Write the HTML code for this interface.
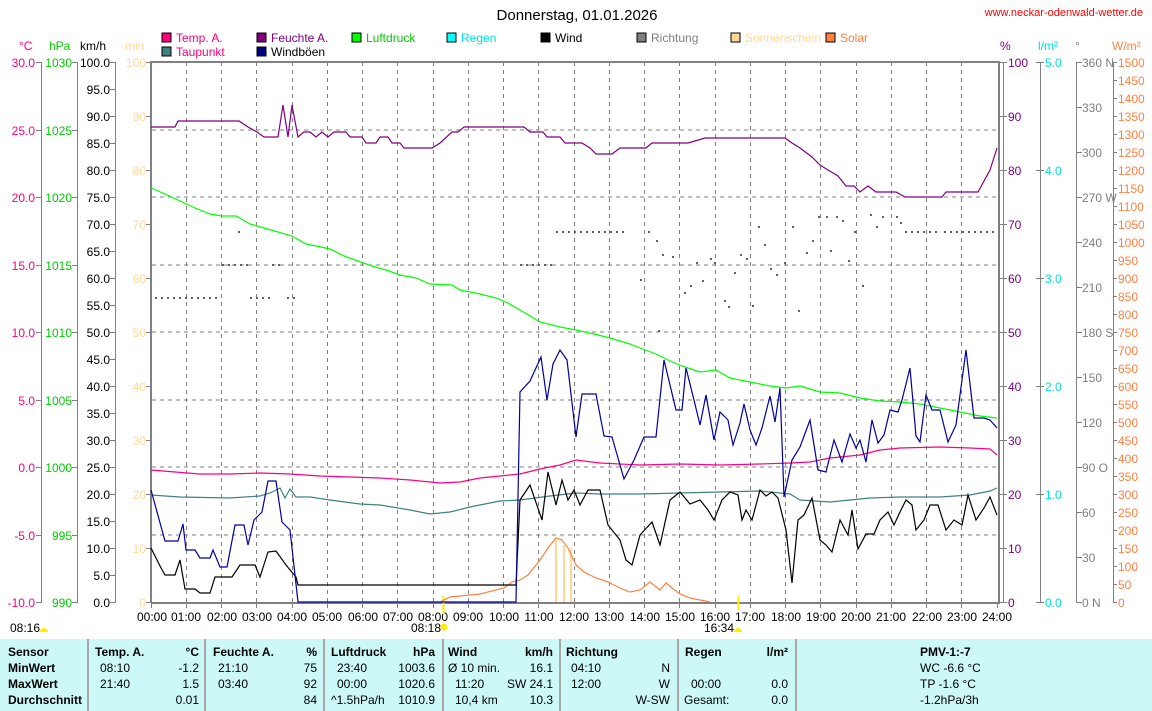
<!DOCTYPE html>
<html><head><meta charset="utf-8"><style>
html,body{margin:0;padding:0;background:#fff;}
body{width:1152px;height:711px;overflow:hidden;position:relative;font-family:"Liberation Sans",sans-serif;}
svg{position:absolute;left:0;top:0;}
svg text{font-family:"Liberation Sans",sans-serif;font-size:12px;}
.tbl{position:absolute;left:0;top:639px;width:1152px;height:72px;background:#ccf8f8;font-size:12px;}
.tbl div{position:absolute;white-space:nowrap;}
.b{font-weight:bold;}
.vl{position:absolute;top:0;width:2px;height:72px;background:#a8a8a8;}
</style></head><body>
<svg width="1152" height="711" viewBox="0 0 1152 711">
<text x="577" y="20" text-anchor="middle" font-size="15" style="font-size:15px">Donnerstag, 01.01.2026</text>
<text x="1143" y="16" text-anchor="end" fill="#ff0000" style="font-size:11px">www.neckar-odenwald-wetter.de</text>
<!-- legend -->
<g style="font-size:12px">
<rect x="162" y="33" width="9" height="9" fill="#ff0080" stroke="#000"/><text x="176" y="42" fill="#ff0080">Temp. A.</text>
<rect x="162" y="47" width="9" height="9" fill="#408080" stroke="#000"/><text x="176" y="56" fill="#ff0080">Taupunkt</text>
<rect x="257" y="33" width="9" height="9" fill="#800080" stroke="#000"/><text x="271" y="42" fill="#800080">Feuchte A.</text>
<rect x="257" y="47" width="9" height="9" fill="#000080" stroke="#000"/><text x="271" y="56" fill="#000">Windböen</text>
<rect x="352" y="33" width="9" height="9" fill="#00ff00" stroke="#000"/><text x="366" y="42" fill="#00cc00">Luftdruck</text>
<rect x="447" y="33" width="9" height="9" fill="#00ffff" stroke="#000"/><text x="461" y="42" fill="#00e0e0">Regen</text>
<rect x="541" y="33" width="9" height="9" fill="#000" stroke="#000"/><text x="555" y="42" fill="#000">Wind</text>
<rect x="637" y="33" width="9" height="9" fill="#808080" stroke="#000"/><text x="651" y="42" fill="#808080">Richtung</text>
<rect x="731" y="33" width="9" height="9" fill="#ffd898" stroke="#000"/><text x="745" y="42" fill="#ffd898">Sonnenschein</text>
<rect x="826" y="33" width="9" height="9" fill="#ff8040" stroke="#000"/><text x="840" y="42" fill="#ff8040">Solar</text>
</g>
<!-- axis headers -->
<text x="19" y="50" fill="#ff0080">°C</text>
<text x="49" y="50" fill="#00cc00">hPa</text>
<text x="80" y="50" fill="#000">km/h</text>
<text x="125" y="50" fill="#ffd898">min</text>
<text x="1000" y="50" fill="#800080">%</text>
<text x="1038" y="50" fill="#00e0e0">l/m²</text>
<text x="1075" y="50" fill="#808080">°</text>
<text x="1112" y="50" fill="#ff8040">W/m²</text>
<!-- grid -->
<g stroke="#808080" stroke-dasharray="4 4" stroke-width="1">
<path d="M152 130H997M152 197H997M152 265H997M152 332H997M152 400H997M152 467H997M152 535H997"/>
<path d="M186.5 62V602M221.5 62V602M256.5 62V602M292.5 62V602M327.5 62V602M362.5 62V602M397.5 62V602M433.5 62V602M468.5 62V602M503.5 62V602M538.5 62V602M574.5 62V602M609.5 62V602M644.5 62V602M679.5 62V602M715.5 62V602M750.5 62V602M785.5 62V602M820.5 62V602M856.5 62V602M891.5 62V602M926.5 62V602M961.5 62V602"/>
</g>
<!-- frame -->
<path d="M151 603V62H999V603H151" fill="none" stroke="#808080" stroke-width="2"/>
<g stroke="#808080" stroke-width="1" fill="none">
<path d="M41.5 62V602M77.5 62V602M115.5 62V602M1003.5 62V602M1040.5 62V602M1076.5 62V602M1113.5 62V602"/>
<path d="M36 62.5h6M36 130.5h6M36 197.5h6M36 265.5h6M36 332.5h6M36 400.5h6M36 467.5h6M36 535.5h6M36 602.5h6"/>
<path d="M72 62.5h6M72 130.5h6M72 197.5h6M72 265.5h6M72 332.5h6M72 400.5h6M72 467.5h6M72 535.5h6M72 602.5h6"/>
<path d="M110 62.5h6M110 89.5h6M110 116.5h6M110 143.5h6M110 170.5h6M110 197.5h6M110 224.5h6M110 251.5h6M110 278.5h6M110 305.5h6M110 332.5h6M110 359.5h6M110 386.5h6M110 413.5h6M110 440.5h6M110 467.5h6M110 494.5h6M110 521.5h6M110 548.5h6M110 575.5h6M110 602.5h6"/>
<path d="M146 62.5h6M146 116.5h6M146 170.5h6M146 224.5h6M146 278.5h6M146 332.5h6M146 386.5h6M146 440.5h6M146 494.5h6M146 548.5h6M146 602.5h6"/>
<path d="M999 62.5h8M999 116.5h8M999 170.5h8M999 224.5h8M999 278.5h8M999 332.5h8M999 386.5h8M999 440.5h8M999 494.5h8M999 548.5h8M999 602.5h8"/>
<path d="M1036 62.5h8M1036 170.5h8M1036 278.5h8M1036 386.5h8M1036 494.5h8M1036 602.5h8"/>
<path d="M1076 62.5h6M1076 107.5h6M1076 152.5h6M1076 197.5h6M1076 242.5h6M1076 287.5h6M1076 332.5h6M1076 377.5h6M1076 422.5h6M1076 467.5h6M1076 512.5h6M1076 557.5h6M1076 602.5h6"/>
<path d="M1113 62.5h4M1113 80.5h4M1113 98.5h4M1113 116.5h4M1113 134.5h4M1113 152.5h4M1113 170.5h4M1113 188.5h4M1113 206.5h4M1113 224.5h4M1113 242.5h4M1113 260.5h4M1113 278.5h4M1113 296.5h4M1113 314.5h4M1113 332.5h4M1113 350.5h4M1113 368.5h4M1113 386.5h4M1113 404.5h4M1113 422.5h4M1113 440.5h4M1113 458.5h4M1113 476.5h4M1113 494.5h4M1113 512.5h4M1113 530.5h4M1113 548.5h4M1113 566.5h4M1113 584.5h4M1113 602.5h4"/>
<path d="M151.5 603v5M186.5 603v5M221.5 603v5M256.5 603v5M292.5 603v5M327.5 603v5M362.5 603v5M397.5 603v5M433.5 603v5M468.5 603v5M503.5 603v5M538.5 603v5M574.5 603v5M609.5 603v5M644.5 603v5M679.5 603v5M715.5 603v5M750.5 603v5M785.5 603v5M820.5 603v5M856.5 603v5M891.5 603v5M926.5 603v5M961.5 603v5M997.5 603v5"/>
</g>
<!-- left labels -->
<g fill="#ff0080" text-anchor="end">
<text x="35" y="67">30.0</text><text x="35" y="135">25.0</text><text x="35" y="202">20.0</text><text x="35" y="270">15.0</text><text x="35" y="337">10.0</text><text x="35" y="405">5.0</text><text x="35" y="472">0.0</text><text x="35" y="540">-5.0</text><text x="35" y="607">-10.0</text>
</g>
<g fill="#00cc00" text-anchor="end">
<text x="72" y="67">1030</text><text x="72" y="135">1025</text><text x="72" y="202">1020</text><text x="72" y="270">1015</text><text x="72" y="337">1010</text><text x="72" y="405">1005</text><text x="72" y="472">1000</text><text x="72" y="540">995</text><text x="72" y="607">990</text>
</g>
<g fill="#000" text-anchor="end">
<text x="110" y="67">100.0</text><text x="110" y="94">95.0</text><text x="110" y="121">90.0</text><text x="110" y="148">85.0</text><text x="110" y="175">80.0</text><text x="110" y="202">75.0</text><text x="110" y="229">70.0</text><text x="110" y="256">65.0</text><text x="110" y="283">60.0</text><text x="110" y="310">55.0</text><text x="110" y="337">50.0</text><text x="110" y="364">45.0</text><text x="110" y="391">40.0</text><text x="110" y="418">35.0</text><text x="110" y="445">30.0</text><text x="110" y="472">25.0</text><text x="110" y="499">20.0</text><text x="110" y="526">15.0</text><text x="110" y="553">10.0</text><text x="110" y="580">5.0</text><text x="110" y="607">0.0</text>
</g>
<g fill="#ffd898" text-anchor="end">
<text x="146" y="67">100</text><text x="146" y="121">90</text><text x="146" y="175">80</text><text x="146" y="229">70</text><text x="146" y="283">60</text><text x="146" y="337">50</text><text x="146" y="391">40</text><text x="146" y="445">30</text><text x="146" y="499">20</text><text x="146" y="553">10</text><text x="146" y="607">0</text>
</g>
<!-- right labels -->
<g fill="#800080">
<text x="1008" y="67">100</text><text x="1008" y="121">90</text><text x="1008" y="175">80</text><text x="1008" y="229">70</text><text x="1008" y="283">60</text><text x="1008" y="337">50</text><text x="1008" y="391">40</text><text x="1008" y="445">30</text><text x="1008" y="499">20</text><text x="1008" y="553">10</text><text x="1008" y="607">0</text>
</g>
<g fill="#00e0e0">
<text x="1045" y="67">5.0</text><text x="1045" y="175">4.0</text><text x="1045" y="283">3.0</text><text x="1045" y="391">2.0</text><text x="1045" y="499">1.0</text><text x="1045" y="607">0.0</text>
</g>
<g fill="#808080">
<text x="1082" y="67">360 N</text><text x="1082" y="112">330</text><text x="1082" y="157">300</text><text x="1082" y="202">270 W</text><text x="1082" y="247">240</text><text x="1082" y="292">210</text><text x="1082" y="337">180 S</text><text x="1082" y="382">150</text><text x="1082" y="427">120</text><text x="1082" y="472">90 O</text><text x="1082" y="517">60</text><text x="1082" y="562">30</text><text x="1082" y="607">0 N</text>
</g>
<g fill="#ff8040">
<text x="1118" y="67">1500</text><text x="1118" y="85">1450</text><text x="1118" y="103">1400</text><text x="1118" y="121">1350</text><text x="1118" y="139">1300</text><text x="1118" y="157">1250</text><text x="1118" y="175">1200</text><text x="1118" y="193">1150</text><text x="1118" y="211">1100</text><text x="1118" y="229">1050</text><text x="1118" y="247">1000</text><text x="1118" y="265">950</text><text x="1118" y="283">900</text><text x="1118" y="301">850</text><text x="1118" y="319">800</text><text x="1118" y="337">750</text><text x="1118" y="355">700</text><text x="1118" y="373">650</text><text x="1118" y="391">600</text><text x="1118" y="409">550</text><text x="1118" y="427">500</text><text x="1118" y="445">450</text><text x="1118" y="463">400</text><text x="1118" y="481">350</text><text x="1118" y="499">300</text><text x="1118" y="517">250</text><text x="1118" y="535">200</text><text x="1118" y="553">150</text><text x="1118" y="571">100</text><text x="1118" y="589">50</text><text x="1118" y="607">0</text>
</g>
<!-- time labels -->
<g fill="#000" text-anchor="middle">
<text x="152" y="621">00:00</text><text x="186" y="621">01:00</text><text x="222" y="621">02:00</text><text x="257" y="621">03:00</text><text x="292" y="621">04:00</text><text x="327" y="621">05:00</text><text x="363" y="621">06:00</text><text x="398" y="621">07:00</text><text x="433" y="621">08:00</text><text x="468" y="621">09:00</text><text x="504" y="621">10:00</text><text x="539" y="621">11:00</text><text x="574" y="621">12:00</text><text x="609" y="621">13:00</text><text x="645" y="621">14:00</text><text x="680" y="621">15:00</text><text x="715" y="621">16:00</text><text x="750" y="621">17:00</text><text x="786" y="621">18:00</text><text x="821" y="621">19:00</text><text x="856" y="621">20:00</text><text x="891" y="621">21:00</text><text x="927" y="621">22:00</text><text x="962" y="621">23:00</text><text x="997" y="621">24:00</text>
</g>
<text x="10" y="632">08:16</text><path d="M40 632a4 4 0 0 1 8 0z" fill="#ffee00"/>
<text x="411" y="632">08:18</text><circle cx="444" cy="627" r="3.5" fill="#ffee00"/>
<text x="704" y="632">16:34</text><path d="M734 632a4 4 0 0 1 8 0z" fill="#ffee00"/>
<path d="M443.5 596V614M738.5 596V610" stroke="#ffee00" stroke-width="2"/>
<!-- direction dots -->
<g stroke="#606060" stroke-width="2" stroke-dasharray="2 4" fill="none">
<path d="M155 298H218M250 298H272M287 298H296M222 265H248M272 265H284M520 265H556M556 232H625M905 232H940M944 232H994M854 232H860"/>
</g>
<g fill="#606060">
<rect x="238" y="231" width="2" height="2"/><rect x="640" y="279" width="2" height="2"/><rect x="648" y="231" width="2" height="2"/><rect x="656" y="240" width="2" height="2"/><rect x="662" y="254" width="2" height="2"/><rect x="672" y="256" width="2" height="2"/><rect x="684" y="292" width="2" height="2"/><rect x="690" y="285" width="2" height="2"/><rect x="696" y="262" width="2" height="2"/><rect x="702" y="280" width="2" height="2"/><rect x="710" y="258" width="2" height="2"/><rect x="714" y="262" width="2" height="2"/><rect x="724" y="300" width="2" height="2"/><rect x="728" y="306" width="2" height="2"/><rect x="734" y="272" width="2" height="2"/><rect x="740" y="254" width="2" height="2"/><rect x="746" y="258" width="2" height="2"/><rect x="752" y="305" width="2" height="2"/><rect x="758" y="226" width="2" height="2"/><rect x="764" y="244" width="2" height="2"/><rect x="770" y="268" width="2" height="2"/><rect x="776" y="274" width="2" height="2"/><rect x="784" y="262" width="2" height="2"/><rect x="792" y="226" width="2" height="2"/><rect x="798" y="310" width="2" height="2"/><rect x="806" y="252" width="2" height="2"/><rect x="812" y="240" width="2" height="2"/><rect x="818" y="216" width="2" height="2"/><rect x="826" y="216" width="2" height="2"/><rect x="830" y="250" width="2" height="2"/><rect x="836" y="216" width="2" height="2"/><rect x="842" y="220" width="2" height="2"/><rect x="848" y="260" width="2" height="2"/><rect x="862" y="285" width="2" height="2"/><rect x="870" y="214" width="2" height="2"/><rect x="876" y="226" width="2" height="2"/><rect x="882" y="216" width="2" height="2"/><rect x="896" y="216" width="2" height="2"/><rect x="900" y="222" width="2" height="2"/><rect x="658" y="330" width="2" height="2"/>
</g>
<!-- sunshine -->
<path d="M556 540V602M564 545V602M571 548V602" stroke="#ffd898" stroke-width="2"/>
<!-- series -->
<g fill="none" stroke-width="1.2">
<polyline stroke="#ff8040" points="440,602 450,597 480,594 504,588 512,582 520,580 528,575 540,560 548,548 556,538 562,540 568,548 576,565 584,572 596,578 608,582 620,588 630,592 640,590 650,582 660,590 666,583 672,588 680,594 690,598 710,602"/>
<polyline stroke="#408080" points="151,495 180,497 230,498 260,496 270,493 280,488 285,498 290,489 296,497 310,497 330,500 360,504 380,505 410,510 430,514 450,512 470,507 500,501 520,500 550,496 576,493 600,494 640,494 680,493 720,492 760,491 790,494 800,500 830,502 870,498 900,497 940,497 970,495 990,491 997,488"/>
<polyline stroke="#ff0080" points="151,470 175,472 200,474 230,474 260,473 290,474 320,476 350,477 380,478 410,480 440,483 460,482 480,478 500,476 520,474 540,469 560,465 576,460 600,463 640,465 680,464 720,465 760,464 790,463 810,462 830,458 860,455 880,450 900,448 940,447 970,448 990,449 997,455"/>
<polyline stroke="#00ff00" points="151,188 165,194 180,201 195,208 210,214 222,216 236,216 250,224 264,228 278,232 292,236 306,244 316,246 330,249 344,256 358,261 372,266 386,270 400,275 416,278 430,284 452,285 460,290 480,294 496,298 508,303 520,310 540,322 560,327 576,330 594,334 610,338 630,344 640,348 656,354 668,360 682,366 700,372 716,370 730,378 750,382 770,386 786,388 800,386 820,392 840,393 860,398 880,401 900,402 920,404 940,408 960,412 980,416 997,418"/>
<polyline stroke="#800080" points="151,127 175,127 178,121 239,121 248,127 257,132 264,137 278,137 283,105 288,137 292,105 298,137 304,132 310,132 316,137 322,132 328,137 334,132 346,132 350,137 362,137 366,143 376,143 380,137 388,137 392,143 400,143 404,148 432,148 440,143 452,132 458,132 464,127 524,127 530,132 543,132 547,137 560,137 565,143 582,143 590,148 596,154 612,154 620,148 646,148 652,143 688,143 705,138 785,138 792,143 800,148 812,157 820,165 828,170 838,176 846,186 854,186 860,192 868,186 876,192 896,192 905,197 942,197 946,192 978,192 990,170 997,148"/>
<polyline stroke="#000" points="151,548 160,566 165,575 175,575 180,560 185,589 195,589 200,593 210,593 215,577 232,577 240,565 255,565 260,577 268,552 276,551 286,565 296,577 298,585 516,585 520,500 530,485 542,520 548,472 556,505 562,480 568,500 574,490 580,505 588,490 600,490 608,525 620,540 626,560 632,565 640,535 652,522 660,545 670,500 680,492 690,504 700,500 708,510 714,520 722,500 730,492 738,495 742,520 746,510 752,520 760,490 766,496 772,492 778,498 786,530 792,583 798,520 804,515 812,498 820,540 826,545 832,552 840,520 848,535 852,510 858,549 866,534 874,534 880,520 888,512 894,525 900,512 906,500 912,505 916,530 924,520 930,505 938,505 946,530 954,520 962,525 968,495 976,520 984,508 990,497 997,515"/>
<polyline stroke="#0000a0" points="151,490 165,541 178,541 183,524 186,550 195,550 200,558 210,558 213,550 220,567 227,567 235,525 244,525 248,545 254,520 262,512 268,481 276,481 282,522 290,530 298,602 516,602 520,392 530,381 541,357 547,400 553,364 560,350 567,360 576,437 582,394 596,394 604,436 612,437 624,479 634,460 644,437 656,437 664,360 676,410 682,410 686,368 694,400 700,425 706,395 714,440 720,412 728,420 733,445 740,423 744,404 750,430 756,445 762,428 770,396 775,422 780,388 784,497 792,460 800,447 810,420 818,470 826,472 834,440 842,462 850,434 856,448 860,440 866,462 872,420 878,443 884,435 890,410 898,412 902,400 910,368 916,436 920,442 926,395 932,410 940,410 948,442 956,425 966,350 974,418 984,418 990,420 997,428"/>
</g>
</svg>
<div class="tbl">
<div class="vl" style="left:87px"></div><div class="vl" style="left:204px"></div><div class="vl" style="left:323px"></div><div class="vl" style="left:442px"></div><div class="vl" style="left:559px"></div><div class="vl" style="left:677px"></div><div class="vl" style="left:795px"></div>
<div class="b" style="left:8px;top:6px">Sensor</div><div class="b" style="left:8px;top:22px">MinWert</div><div class="b" style="left:8px;top:38px">MaxWert</div><div class="b" style="left:8px;top:54px">Durchschnitt</div>
<div class="b" style="left:95px;top:6px">Temp. A.</div><div class="b" style="right:953px;top:6px">°C</div>
<div style="left:100px;top:22px">08:10</div><div style="right:953px;top:22px">-1.2</div>
<div style="left:100px;top:38px">21:40</div><div style="right:953px;top:38px">1.5</div>
<div style="right:953px;top:54px">0.01</div>
<div class="b" style="left:213px;top:6px">Feuchte A.</div><div class="b" style="right:835px;top:6px">%</div>
<div style="left:218px;top:22px">21:10</div><div style="right:835px;top:22px">75</div>
<div style="left:218px;top:38px">03:40</div><div style="right:835px;top:38px">92</div>
<div style="right:835px;top:54px">84</div>
<div class="b" style="left:331px;top:6px">Luftdruck</div><div class="b" style="right:717px;top:6px">hPa</div>
<div style="left:337px;top:22px">23:40</div><div style="right:717px;top:22px">1003.6</div>
<div style="left:337px;top:38px">00:00</div><div style="right:717px;top:38px">1020.6</div>
<div style="left:331px;top:54px">^1.5hPa/h</div><div style="right:717px;top:54px">1010.9</div>
<div class="b" style="left:448px;top:6px">Wind</div><div class="b" style="right:599px;top:6px">km/h</div>
<div style="left:448px;top:22px">Ø 10 min.</div><div style="right:599px;top:22px">16.1</div>
<div style="left:455px;top:38px">11:20</div><div style="right:599px;top:38px">SW 24.1</div>
<div style="left:455px;top:54px">10,4 km</div><div style="right:599px;top:54px">10.3</div>
<div class="b" style="left:566px;top:6px">Richtung</div>
<div style="left:571px;top:22px">04:10</div><div style="right:482px;top:22px">N</div>
<div style="left:571px;top:38px">12:00</div><div style="right:482px;top:38px">W</div>
<div style="right:482px;top:54px">W-SW</div>
<div class="b" style="left:685px;top:6px">Regen</div><div class="b" style="right:364px;top:6px">l/m²</div>
<div style="left:691px;top:38px">00:00</div><div style="right:364px;top:38px">0.0</div>
<div style="left:684px;top:54px">Gesamt:</div><div style="right:364px;top:54px">0.0</div>
<div class="b" style="left:920px;top:6px">PMV-1:-7</div>
<div style="left:920px;top:22px">WC -6.6 °C</div>
<div style="left:920px;top:38px">TP -1.6 °C</div>
<div style="left:920px;top:54px">-1.2hPa/3h</div>
</div>
</body></html>
